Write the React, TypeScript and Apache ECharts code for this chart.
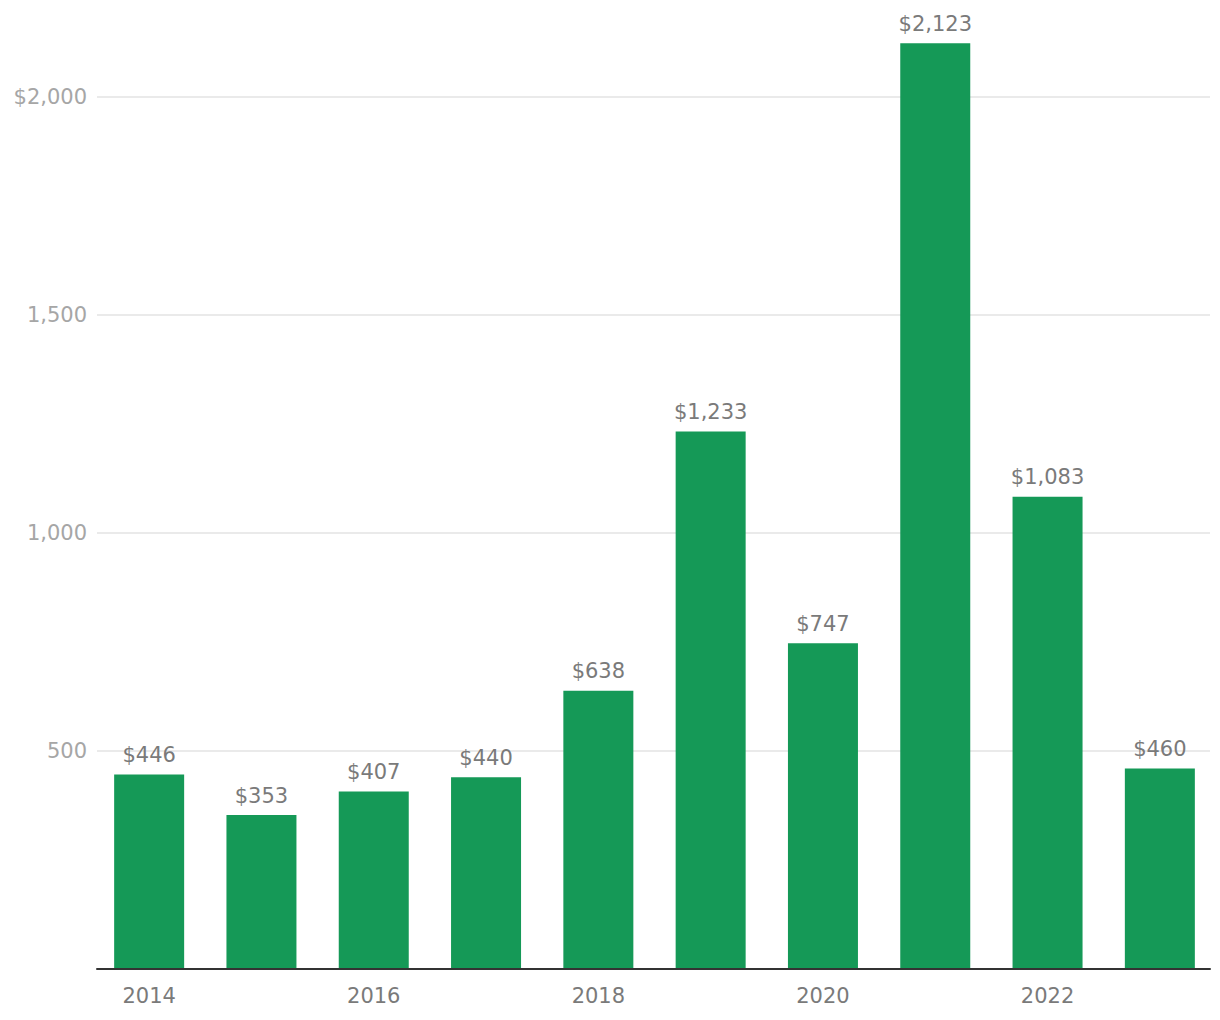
import React, { useEffect, useRef } from "react";
import * as echarts from "echarts";

const years = ["2014", "2015", "2016", "2017", "2018", "2019", "2020", "2021", "2022", "2023"];
const values = [446, 353, 407, 440, 638, 1233, 747, 2123, 1083, 460];
const yTicks = [0, 500, 1000, 1500, 2000];

const FONT = "DejaVu Sans";

export default function App() {
  const ref = useRef<HTMLDivElement>(null);
  useEffect(() => {
    const chart = echarts.init(ref.current!, null, { renderer: "svg" });
    chart.setOption({
      animation: false,
      backgroundColor: "#fff",
      grid: [
        { left: 93, right: 4, top: 97, bottom: 51 },
        { left: 97, right: 10, top: 97, bottom: 51 },
      ],
      xAxis: [
        {
          type: "category",
          gridIndex: 0,
          data: years,
          axisLine: { show: false },
          axisTick: { show: false },
          axisLabel: {
            interval: 1,
            color: "#7a7a7a",
            fontFamily: FONT,
            fontSize: 21,
            margin: 16,
          },
        },
        {
          type: "category",
          gridIndex: 1,
          data: years,
          axisLine: { show: true, lineStyle: { color: "#333", width: 2 } },
          axisTick: { show: false },
          axisLabel: { show: false },
          z: 5,
        },
      ],
      yAxis: [
        {
          type: "value",
          gridIndex: 0,
          min: 0,
          max: 2000,
          interval: 500,
          axisLabel: { show: false },
          axisLine: { show: false },
          axisTick: { show: false },
          splitLine: { show: false },
        },
        {
          type: "value",
          gridIndex: 1,
          min: yTicks[0],
          max: yTicks[yTicks.length - 1],
          interval: 500,
          axisLine: { show: false },
          axisTick: { show: false },
          splitLine: { show: true, lineStyle: { color: "#e3e3e3", width: 1.5 } },
          axisLabel: {
            color: "#a6a6a6",
            fontFamily: FONT,
            fontSize: 21,
            margin: 10,
            formatter: (v: number) =>
              v === 0 ? "" : (v === 2000 ? "$" : "") + v.toLocaleString("en-US"),
          },
        },
      ],
      series: [
        {
          type: "bar",
          xAxisIndex: 0,
          yAxisIndex: 0,
          data: values,
          barWidth: 70,
          clip: false,
          z: 3,
          itemStyle: { color: "#159957" },
          label: {
            show: true,
            position: "top",
            distance: 9,
            color: "#7a7a7a",
            fontFamily: FONT,
            fontSize: 21,
            formatter: (p: any) => "$" + Number(p.value).toLocaleString("en-US"),
          },
        },
      ],
    });
    return () => chart.dispose();
  }, []);
  return (
    <div
      ref={ref}
      style={{ position: "absolute", left: 0, top: 0, width: 1220, height: 1020 }}
    />
  );
}
